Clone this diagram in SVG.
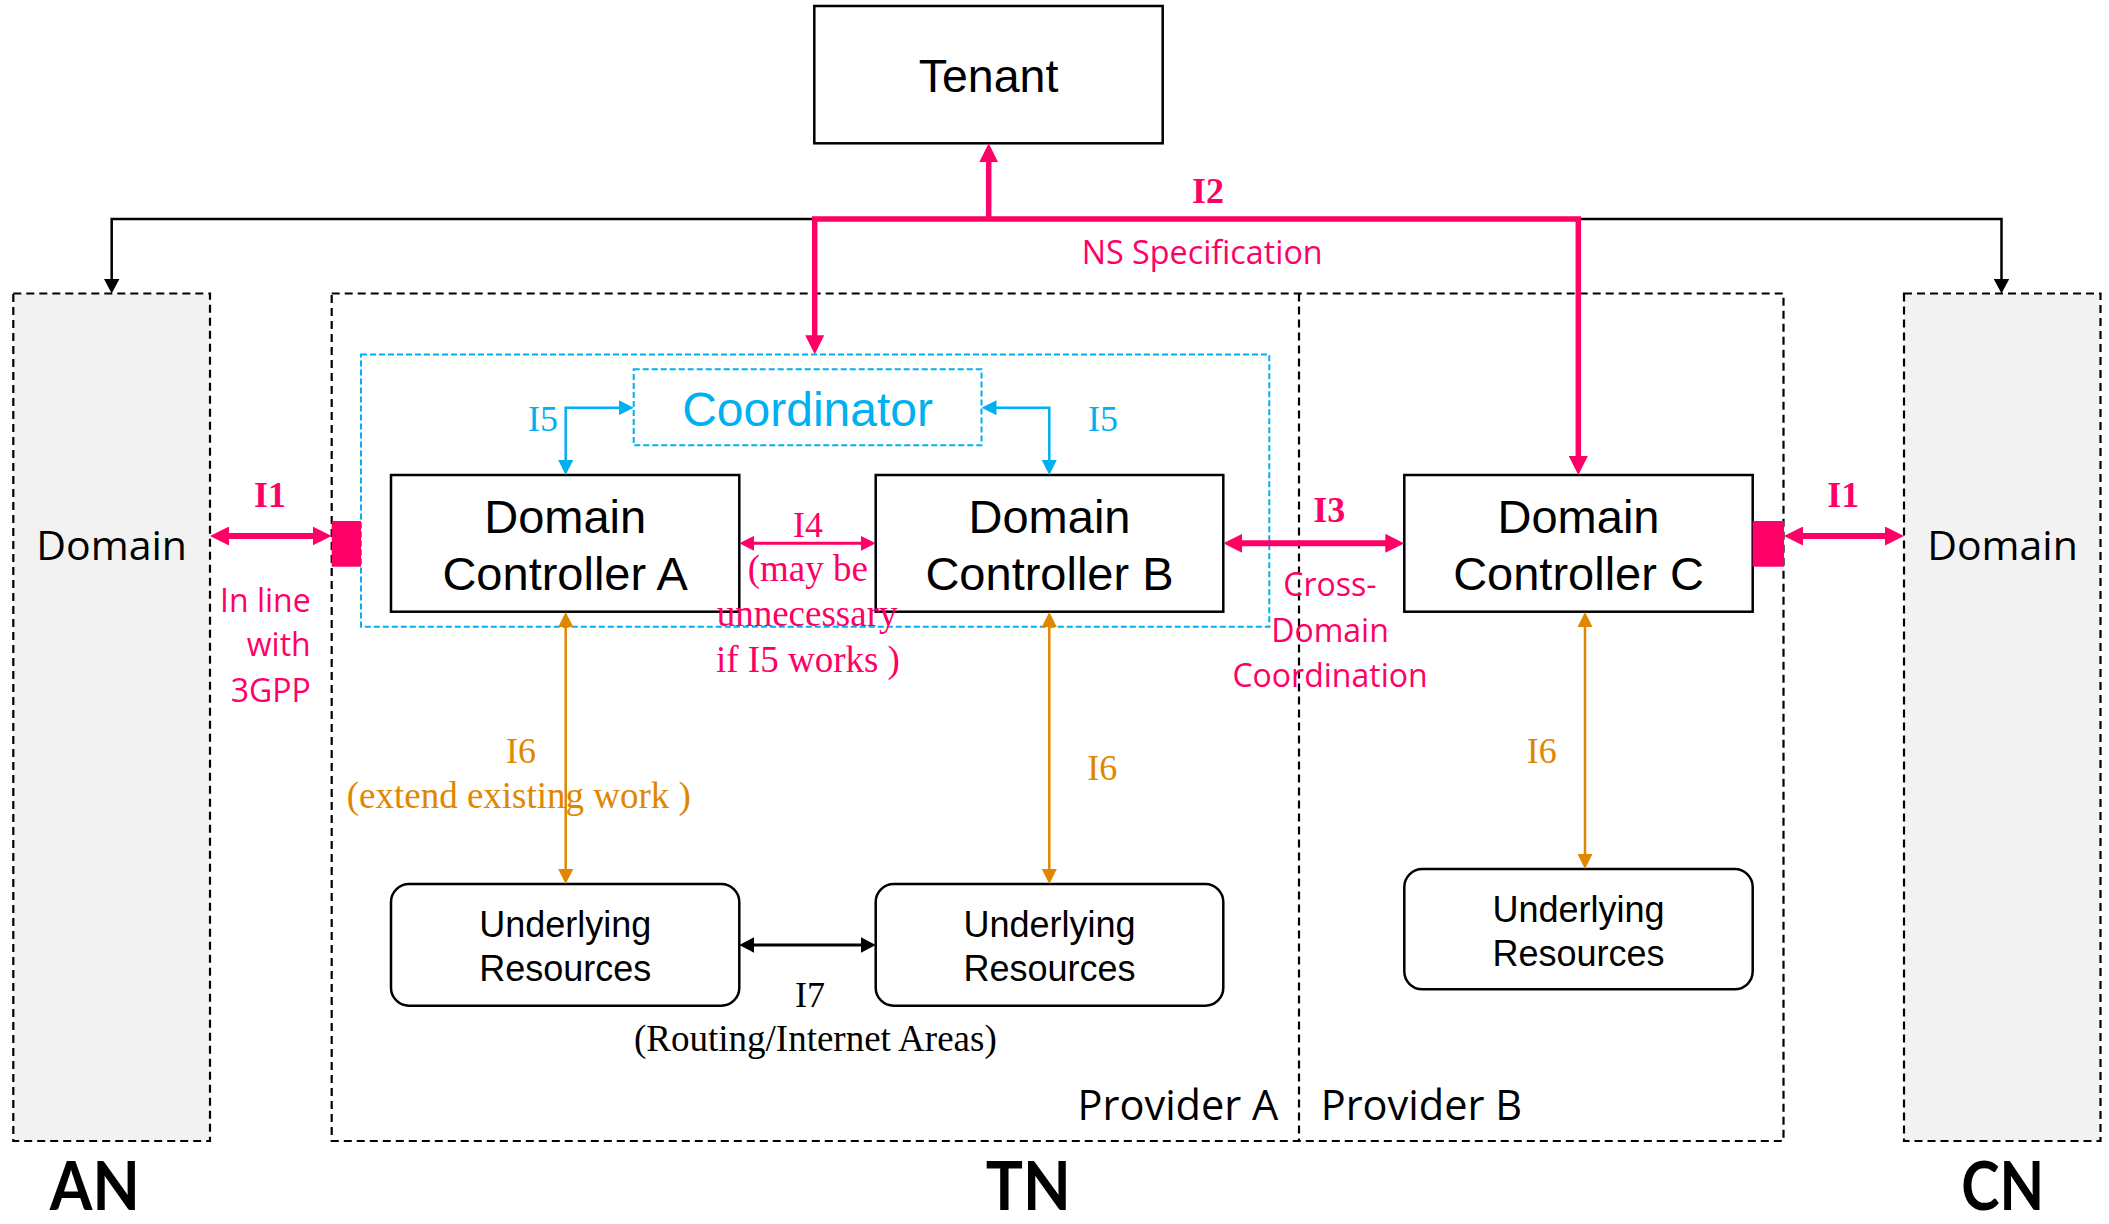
<svg xmlns="http://www.w3.org/2000/svg" width="2109" height="1224" viewBox="0 0 2109 1224">
  <defs>
    <style>
      .box { fill: #ffffff; stroke: #000000; stroke-width: 2.5; }
      .region { fill: #f2f2f2; stroke: #000000; stroke-width: 2.2; stroke-dasharray: 8 5; }
      .tn { fill: none; stroke: #000000; stroke-width: 2.2; stroke-dasharray: 8 5; }
      .cyanbox { fill: none; stroke: #00b0f0; stroke-width: 2; stroke-dasharray: 6 3; }
      .arial { font-family: "Liberation Sans", Arial, sans-serif; fill: #000000; text-anchor: middle; }
      .sans { font-family: "Open Sans", "Noto Sans", sans-serif; }
      .serif { font-family: "Liberation Serif", "Times New Roman", serif; }
      .pink { fill: #ff0066; }
      .cyan { fill: #00b0f0; }
      .orange { fill: #df8700; }
      .c-pink-lg { fill: none; stroke: #ff0066; stroke-width: 5.5; marker-start: url(#ah-pink-lg); marker-end: url(#ah-pink-lg); }
      .c-pink-sm { fill: none; stroke: #ff0066; stroke-width: 3; marker-start: url(#ah-pink-sm); marker-end: url(#ah-pink-sm); }
      .c-black { fill: none; stroke: #000000; stroke-width: 2.5; marker-start: url(#ah-black); marker-end: url(#ah-black); }
      .c-cyan { fill: none; stroke: #00b0f0; stroke-width: 2.5; marker-start: url(#ah-cyan); marker-end: url(#ah-cyan); }
      .c-orange { fill: none; stroke: #df8700; stroke-width: 2.5; marker-start: url(#ah-orange); marker-end: url(#ah-orange); }
      .seg { font-family: Lato, "Open Sans", sans-serif; font-size: 66px; font-weight: bold; text-anchor: middle; fill: #000000; }
    </style>
    <marker id="ah-pink-lg" markerUnits="userSpaceOnUse" markerWidth="19" markerHeight="19" refX="1" refY="9.5" orient="auto-start-reverse">
      <path d="M0,0 L19,9.5 L0,19 z" fill="#ff0066"/>
    </marker>
    <marker id="ah-pink-sm" markerUnits="userSpaceOnUse" markerWidth="15" markerHeight="15" refX="1" refY="7.5" orient="auto-start-reverse">
      <path d="M0,0 L15,7.5 L0,15 z" fill="#ff0066"/>
    </marker>
    <marker id="ah-black" markerUnits="userSpaceOnUse" markerWidth="15" markerHeight="16" refX="1" refY="8" orient="auto-start-reverse">
      <path d="M0,0 L15,8 L0,16 z" fill="#000000"/>
    </marker>
    <marker id="ah-cyan" markerUnits="userSpaceOnUse" markerWidth="15" markerHeight="15" refX="1" refY="7.5" orient="auto-start-reverse">
      <path d="M0,0 L15,7.5 L0,15 z" fill="#00b0f0"/>
    </marker>
    <marker id="ah-orange" markerUnits="userSpaceOnUse" markerWidth="15" markerHeight="15" refX="1" refY="7.5" orient="auto-start-reverse">
      <path d="M0,0 L15,7.5 L0,15 z" fill="#df8700"/>
    </marker>
  </defs>

  <rect x="0" y="0" width="2109" height="1224" fill="#ffffff"/>

  <!-- Network segments: access, transport (two providers), core -->
  <g id="segment-an">
    <rect class="region" x="13.3" y="293.5" width="196.7" height="847.5"/>
    <text class="sans" x="111.7" y="560" font-size="41" text-anchor="middle" fill="#000000">Domain</text>
  </g>
  <g id="segment-tn">
    <rect class="tn" x="331.7" y="293.5" width="1451.8" height="847.5"/>
    <line x1="1299" y1="293.5" x2="1299" y2="1141" stroke="#000000" stroke-width="2.2" stroke-dasharray="8 5"/>
    <text class="sans" x="1278.3" y="1120" font-size="41.5" text-anchor="end" fill="#000000">Provider A</text>
    <text class="sans" x="1320.7" y="1120" font-size="41.5" fill="#000000">Provider B</text>
  </g>
  <g id="segment-cn">
    <rect class="region" x="1904" y="293.5" width="196.5" height="847.5"/>
    <text class="sans" x="2002.5" y="560" font-size="41" text-anchor="middle" fill="#000000">Domain</text>
  </g>

  <!-- Provider A coordination area -->
  <rect id="coordination-area" class="cyanbox" x="361" y="354.5" width="908.3" height="272.2"/>

  <g id="tenant">
    <rect class="box" x="814.3" y="6" width="348.4" height="137.3"/>
    <text class="arial" x="988.5" y="92" font-size="46.5">Tenant</text>
  </g>

  <g id="coordinator">
    <rect class="cyanbox" x="633.7" y="369.3" width="347.8" height="76"/>
    <text class="arial" x="807.6" y="426" font-size="48" style="fill:#00b0f0">Coordinator</text>
  </g>

  <g id="dc-a">
    <rect class="box" x="391" y="475" width="348.3" height="136.7"/>
    <text class="arial" x="565.2" y="533.3" font-size="47">Domain</text>
    <text class="arial" x="565.2" y="590" font-size="47">Controller A</text>
  </g>
  <g id="dc-b">
    <rect class="box" x="875.7" y="475" width="347.6" height="136.7"/>
    <text class="arial" x="1049.5" y="533.3" font-size="47">Domain</text>
    <text class="arial" x="1049.5" y="590" font-size="47">Controller B</text>
  </g>
  <g id="dc-c">
    <rect class="box" x="1404.3" y="475" width="348.4" height="136.7"/>
    <text class="arial" x="1578.5" y="533.3" font-size="47">Domain</text>
    <text class="arial" x="1578.5" y="590" font-size="47">Controller C</text>
  </g>

  <!-- Interface endpoints towards the neighbouring segments -->
  <rect id="port-a" x="331.7" y="521" width="29.3" height="45.7" fill="#ff0066"/>
  <rect id="port-c" x="1752.7" y="521" width="31.3" height="45.7" fill="#ff0066"/>

  <g id="ur-a">
    <rect class="box" x="391" y="884" width="348.3" height="121.7" rx="18"/>
    <text class="arial" x="565.2" y="936.7" font-size="36">Underlying</text>
    <text class="arial" x="565.2" y="981" font-size="36">Resources</text>
  </g>
  <g id="ur-b">
    <rect class="box" x="875.7" y="884" width="347.6" height="121.7" rx="18"/>
    <text class="arial" x="1049.5" y="936.7" font-size="36">Underlying</text>
    <text class="arial" x="1049.5" y="981" font-size="36">Resources</text>
  </g>
  <g id="ur-c">
    <rect class="box" x="1404.3" y="869" width="348.4" height="120.3" rx="18"/>
    <text class="arial" x="1578.5" y="921.7" font-size="36">Underlying</text>
    <text class="arial" x="1578.5" y="966" font-size="36">Resources</text>
  </g>

  <g id="connectors">
    <!-- tenant towards AN / CN domains -->
    <path class="c-black" d="M111.7,279.5 V219 H2001.5 V279.5"/>
    <!-- I2: tenant to controllers -->
    <path d="M988.7,219 V161.3" fill="none" stroke="#ff0066" stroke-width="5.5" marker-end="url(#ah-pink-lg)"/>
    <path class="c-pink-lg" d="M814.7,336.3 V219 H1578.3 V457"/>
    <!-- I1 -->
    <path class="c-pink-lg" style="stroke-width:6" d="M228,536 H313.7"/>
    <path class="c-pink-lg" style="stroke-width:6" d="M1802,536 H1886"/>
    <!-- I3 -->
    <path class="c-pink-lg" style="stroke-width:6" d="M1241.3,543.3 H1386.3"/>
    <!-- I4 -->
    <path class="c-pink-sm" d="M753.3,543.3 H861.7"/>
    <!-- I5 -->
    <path class="c-cyan" d="M565.7,461 V407.7 H619.7"/>
    <path class="c-cyan" d="M1049.3,461 V407.7 H995.5"/>
    <!-- I6 -->
    <path class="c-orange" d="M565.7,626 V870"/>
    <path class="c-orange" d="M1049.3,626 V870"/>
    <path class="c-orange" d="M1585,626 V855"/>
    <!-- I7 -->
    <path class="c-black" style="stroke-width:3" d="M753.3,945 H861.7"/>
  </g>

  <g id="labels">
    <text class="serif pink" x="1192" y="203" font-size="36" font-weight="bold">I2</text>
    <text class="sans pink" x="1081.7" y="264" font-size="32.3">NS Specification</text>

    <text class="serif pink" x="254" y="506.7" font-size="36" font-weight="bold">I1</text>
    <text class="serif pink" x="1827.3" y="506.7" font-size="36" font-weight="bold">I1</text>
    <text class="sans pink" x="310.7" y="611.7" font-size="32" text-anchor="end">In line</text>
    <text class="sans pink" x="310.7" y="656" font-size="32" text-anchor="end">with</text>
    <text class="sans pink" x="310.7" y="701.7" font-size="32" text-anchor="end">3GPP</text>

    <text class="serif pink" x="1313.3" y="521.7" font-size="36" font-weight="bold">I3</text>
    <text class="sans pink" x="1330" y="596" font-size="32" text-anchor="middle">Cross-</text>
    <text class="sans pink" x="1330" y="641.7" font-size="32" text-anchor="middle">Domain</text>
    <text class="sans pink" x="1330" y="686.7" font-size="32" text-anchor="middle">Coordination</text>

    <text class="serif pink" x="793" y="536.7" font-size="36">I4</text>
    <text class="serif pink" x="747.7" y="580.7" font-size="37">(may be</text>
    <text class="serif pink" x="716.7" y="626" font-size="37">unnecessary</text>
    <text class="serif pink" x="716" y="671.7" font-size="37">if I5 works )</text>

    <text class="serif cyan" x="528" y="430.7" font-size="36">I5</text>
    <text class="serif cyan" x="1088" y="430.7" font-size="36">I5</text>

    <text class="serif orange" x="506" y="763.3" font-size="36">I6</text>
    <text class="serif orange" x="346.7" y="808.3" font-size="37">(extend existing work )</text>
    <text class="serif orange" x="1087.3" y="780" font-size="36">I6</text>
    <text class="serif orange" x="1526.7" y="763.3" font-size="36">I6</text>

    <text class="serif" x="795" y="1006.7" font-size="36" fill="#000000">I7</text>
    <text class="serif" x="634" y="1051" font-size="37" fill="#000000">(Routing/Internet Areas)</text>

    <text class="seg" x="94.8" y="1210" textLength="90" lengthAdjust="spacingAndGlyphs">AN</text>
    <text class="seg" x="1028.3" y="1210" textLength="85" lengthAdjust="spacingAndGlyphs">TN</text>
    <text class="seg" x="2002.7" y="1210" textLength="83" lengthAdjust="spacingAndGlyphs">CN</text>
  </g>
</svg>
